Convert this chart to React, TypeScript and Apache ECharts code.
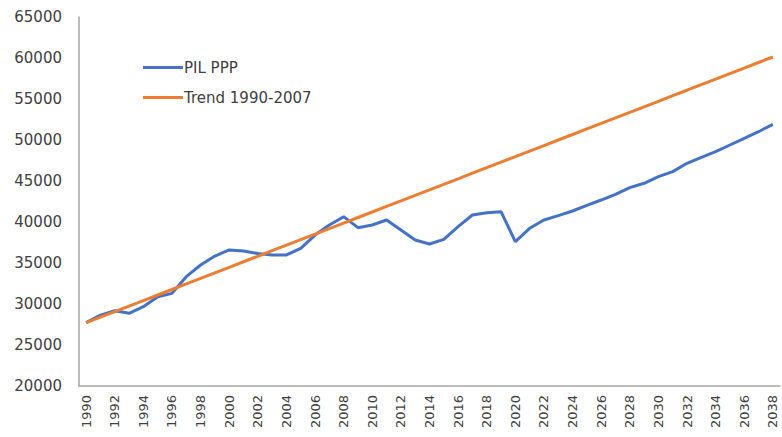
import React, { useEffect, useRef } from "react";
import * as echarts from "echarts";

const years: string[] = [];
for (let y = 1990; y <= 2038; y++) years.push(String(y));

const pilPPP = [
  27720, 28650, 29180, 28860, 29670, 30890, 31300, 33330, 34760, 35850,
  36590, 36460, 36150, 35980, 35980, 36790, 38410, 39630, 40650, 39310,
  39630, 40240, 39020, 37800, 37320, 37890, 39430, 40850, 41140, 41260,
  37600, 39230, 40240, 40770, 41340, 42030, 42680, 43370, 44190, 44720,
  45530, 46140, 47160, 47890, 48580, 49390, 50200, 51010, 51910,
];

const trend = [
  27720, 28400, 29070, 29750, 30420, 31100, 31770, 32450, 33120, 33800,
  34470, 35150, 35820, 36500, 37170, 37850, 38520, 39200, 39870, 40550,
  41220, 41900, 42570, 43250, 43920, 44600, 45270, 45950, 46620, 47300,
  47970, 48650, 49320, 50000, 50670, 51350, 52020, 52700, 53370, 54050,
  54720, 55400, 56070, 56750, 57420, 58100, 58770, 59450, 60120,
];

const seriesNames = ["PIL PPP", "Trend 1990-2007"];

export default function App() {
  const ref = useRef<HTMLDivElement>(null);
  useEffect(() => {
    if (!ref.current) return;
    const chart = echarts.init(ref.current, null, { renderer: "svg" });
    chart.setOption({
      animation: false,
      backgroundColor: "#ffffff",
      grid: { left: 79, right: 2, top: 17, bottom: 51 },
      legend: {
        orient: "vertical",
        left: 143,
        top: 60,
        padding: 0,
        itemWidth: 40,
        itemHeight: 3,
        itemGap: 15,
        icon: "rect",
        data: seriesNames,
        textStyle: {
          fontFamily: "DejaVu Sans",
          fontSize: 15,
          color: "#404040",
          padding: [0, 0, 0, -4],
        },
      },
      xAxis: {
        type: "category",
        data: years,
        boundaryGap: true,
        axisLine: { show: true, lineStyle: { color: "#a6a6a6", width: 1.5 } },
        axisTick: { show: false },
        axisLabel: {
          interval: 1,
          rotate: 90,
          margin: 9,
          fontFamily: "DejaVu Sans",
          fontSize: 13,
          color: "#404040",
        },
        splitLine: { show: false },
      },
      yAxis: {
        type: "value",
        min: 20000,
        max: 65000,
        interval: 5000,
        axisLine: { show: true, lineStyle: { color: "#a6a6a6", width: 1.5 } },
        axisTick: { show: false },
        axisLabel: {
          margin: 17,
          fontFamily: "DejaVu Sans",
          fontSize: 15,
          color: "#404040",
          formatter: (v: number) => String(v),
        },
        splitLine: { show: false },
      },
      series: [
        {
          name: seriesNames[0],
          type: "line",
          data: pilPPP,
          showSymbol: false,
          symbol: "none",
          lineStyle: { color: "#4472c4", width: 3 },
          itemStyle: { color: "#4472c4" },
        },
        {
          name: seriesNames[1],
          type: "line",
          data: trend,
          showSymbol: false,
          symbol: "none",
          lineStyle: { color: "#ed7d31", width: 3 },
          itemStyle: { color: "#ed7d31" },
        },
      ],
    });
    return () => chart.dispose();
  }, []);
  return (
    <div
      ref={ref}
      style={{ position: "fixed", left: 0, top: 0, width: 782, height: 437 }}
    />
  );
}
